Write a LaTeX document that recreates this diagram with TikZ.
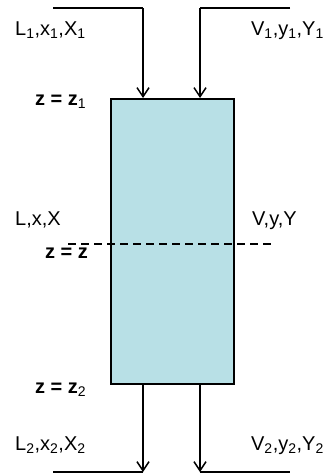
\documentclass[tikz,border=0pt]{standalone}
\usepackage{fontspec}
\setmainfont{Liberation Sans}
\usetikzlibrary{arrows.meta}
\definecolor{boxfill}{RGB}{184,224,230}
\newcommand{\regsub}[1]{\textsubscript{\mdseries #1}}
\begin{document}
\begin{tikzpicture}[x=1pt,y=-1pt,
  lbl/.style={inner sep=0pt,anchor=base west,font=\fontsize{20}{24}\selectfont},
  lblr/.style={inner sep=0pt,anchor=base east,font=\fontsize{20}{24}\selectfont},
  zlbl/.style={inner sep=0pt,anchor=base west,font=\fontsize{20}{24}\selectfont\bfseries},
  stream/.style={line width=1.5pt,-{Straight Barb[length=9pt,width=12pt,line width=1.5pt]}},
  plain/.style={line width=1.5pt}]
\useasboundingbox (0,0) rectangle (328,474);
\node[draw,line width=1.5pt,fill=boxfill,minimum width=123pt,minimum height=285pt,inner sep=0pt,anchor=north west] (col) at (110,98) {};
% feed points
\coordinate (tl) at (53,8);
\coordinate (tlc) at (143,8);
\coordinate (tr) at (290,8);
\coordinate (trc) at (200,8);
\coordinate (inL) at (143,98);
\coordinate (inV) at (200,98);
\coordinate (outL) at (143,383);
\coordinate (outV) at (200,383);
\coordinate (bl) at (53,472);
\coordinate (blc) at (143,472);
\coordinate (br) at (290,472);
\coordinate (brc) at (200,472);
\draw[plain] (tl) -- (tlc);
\draw[stream] (tlc) -- (inL);
\draw[plain] (tr) -- (trc);
\draw[stream] (trc) -- (inV);
\draw[stream] (outL) -- (blc);
\draw[plain] (blc) -- (bl);
\draw[stream] (outV) -- (brc);
\draw[plain] (brc) -- (br);
% dashed level
\coordinate (dl) at (68,244);
\coordinate (dr) at (274,244);
\draw[line width=1.2pt,dash pattern=on 8pt off 5pt] (dl) -- (dr);
% labels
\node[lbl] (L1) at (15,35) {L\textsubscript{1},x\textsubscript{1},X\textsubscript{1}};
\node[lblr] (V1) at (324,35) {V\textsubscript{1},y\textsubscript{1},Y\textsubscript{1}};
\node[zlbl] (z1) at (35,105) {z = z\regsub{1}};
\node[lbl] (L) at (15,225) {L,x,X};
\node[lbl] (V) at (252,225) {V,y,Y};
\node[zlbl] (zz) at (45,258) {z = z};
\node[zlbl] (z2) at (35,393) {z = z\regsub{2}};
\node[lbl] (L2) at (15,450) {L\textsubscript{2},x\textsubscript{2},X\textsubscript{2}};
\node[lblr] (V2) at (324,450) {V\textsubscript{2},y\textsubscript{2},Y\textsubscript{2}};
\end{tikzpicture}
\end{document}
